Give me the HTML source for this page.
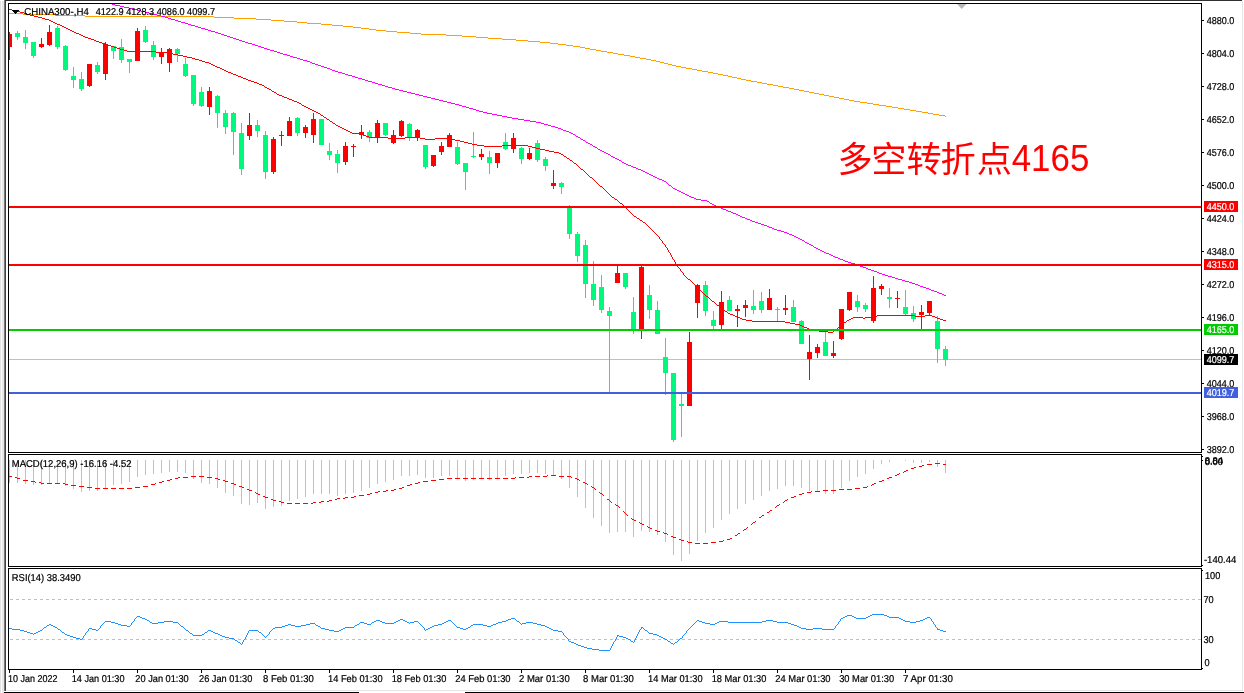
<!DOCTYPE html><html><head><meta charset="utf-8"><title>CHINA300-,H4</title><style>
html,body{margin:0;padding:0;background:#fff;}body{width:1244px;height:693px;overflow:hidden;position:relative;font-family:"Liberation Sans",sans-serif;}
svg{will-change:transform;position:absolute;left:0;top:0;display:block}
.t{font-family:"Liberation Sans",sans-serif;text-rendering:geometricPrecision;font-size:10px;fill:#000;stroke:#000;stroke-width:0.22px}
.w{fill:#fff;stroke:#fff}
.cr{shape-rendering:crispEdges}
</style></head><body>
<svg width="1244" height="693" viewBox="0 0 1244 693">
<defs><clipPath id="cm"><rect x="9" y="4" width="1192" height="448"/></clipPath><clipPath id="c2"><rect x="9" y="455" width="1192" height="111"/></clipPath><clipPath id="c3"><rect x="9" y="569" width="1192" height="100"/></clipPath><clipPath id="ds"><rect x="7" y="455" width="5" height="111"/><rect x="15" y="455" width="5" height="111"/><rect x="23" y="455" width="5" height="111"/><rect x="31" y="455" width="5" height="111"/><rect x="39" y="455" width="5" height="111"/><rect x="47" y="455" width="5" height="111"/><rect x="55" y="455" width="5" height="111"/><rect x="63" y="455" width="5" height="111"/><rect x="71" y="455" width="5" height="111"/><rect x="79" y="455" width="5" height="111"/><rect x="87" y="455" width="5" height="111"/><rect x="95" y="455" width="5" height="111"/><rect x="103" y="455" width="5" height="111"/><rect x="111" y="455" width="5" height="111"/><rect x="119" y="455" width="5" height="111"/><rect x="127" y="455" width="5" height="111"/><rect x="135" y="455" width="5" height="111"/><rect x="143" y="455" width="5" height="111"/><rect x="151" y="455" width="5" height="111"/><rect x="159" y="455" width="5" height="111"/><rect x="167" y="455" width="5" height="111"/><rect x="175" y="455" width="5" height="111"/><rect x="183" y="455" width="5" height="111"/><rect x="191" y="455" width="5" height="111"/><rect x="199" y="455" width="5" height="111"/><rect x="207" y="455" width="5" height="111"/><rect x="215" y="455" width="5" height="111"/><rect x="223" y="455" width="5" height="111"/><rect x="231" y="455" width="5" height="111"/><rect x="239" y="455" width="5" height="111"/><rect x="247" y="455" width="5" height="111"/><rect x="255" y="455" width="5" height="111"/><rect x="263" y="455" width="5" height="111"/><rect x="271" y="455" width="5" height="111"/><rect x="279" y="455" width="5" height="111"/><rect x="287" y="455" width="5" height="111"/><rect x="295" y="455" width="5" height="111"/><rect x="303" y="455" width="5" height="111"/><rect x="311" y="455" width="5" height="111"/><rect x="319" y="455" width="5" height="111"/><rect x="327" y="455" width="5" height="111"/><rect x="335" y="455" width="5" height="111"/><rect x="343" y="455" width="5" height="111"/><rect x="351" y="455" width="5" height="111"/><rect x="359" y="455" width="5" height="111"/><rect x="367" y="455" width="5" height="111"/><rect x="375" y="455" width="5" height="111"/><rect x="383" y="455" width="5" height="111"/><rect x="391" y="455" width="5" height="111"/><rect x="399" y="455" width="5" height="111"/><rect x="407" y="455" width="5" height="111"/><rect x="415" y="455" width="5" height="111"/><rect x="423" y="455" width="5" height="111"/><rect x="431" y="455" width="5" height="111"/><rect x="439" y="455" width="5" height="111"/><rect x="447" y="455" width="5" height="111"/><rect x="455" y="455" width="5" height="111"/><rect x="463" y="455" width="5" height="111"/><rect x="471" y="455" width="5" height="111"/><rect x="479" y="455" width="5" height="111"/><rect x="487" y="455" width="5" height="111"/><rect x="495" y="455" width="5" height="111"/><rect x="503" y="455" width="5" height="111"/><rect x="511" y="455" width="5" height="111"/><rect x="519" y="455" width="5" height="111"/><rect x="527" y="455" width="5" height="111"/><rect x="535" y="455" width="5" height="111"/><rect x="543" y="455" width="5" height="111"/><rect x="551" y="455" width="5" height="111"/><rect x="559" y="455" width="5" height="111"/><rect x="567" y="455" width="5" height="111"/><rect x="575" y="455" width="5" height="111"/><rect x="583" y="455" width="5" height="111"/><rect x="591" y="455" width="5" height="111"/><rect x="599" y="455" width="5" height="111"/><rect x="607" y="455" width="5" height="111"/><rect x="615" y="455" width="5" height="111"/><rect x="623" y="455" width="5" height="111"/><rect x="631" y="455" width="5" height="111"/><rect x="639" y="455" width="5" height="111"/><rect x="647" y="455" width="5" height="111"/><rect x="655" y="455" width="5" height="111"/><rect x="663" y="455" width="5" height="111"/><rect x="671" y="455" width="5" height="111"/><rect x="679" y="455" width="5" height="111"/><rect x="687" y="455" width="5" height="111"/><rect x="695" y="455" width="5" height="111"/><rect x="703" y="455" width="5" height="111"/><rect x="711" y="455" width="5" height="111"/><rect x="719" y="455" width="5" height="111"/><rect x="727" y="455" width="5" height="111"/><rect x="735" y="455" width="5" height="111"/><rect x="743" y="455" width="5" height="111"/><rect x="751" y="455" width="5" height="111"/><rect x="759" y="455" width="5" height="111"/><rect x="767" y="455" width="5" height="111"/><rect x="775" y="455" width="5" height="111"/><rect x="783" y="455" width="5" height="111"/><rect x="791" y="455" width="5" height="111"/><rect x="799" y="455" width="5" height="111"/><rect x="807" y="455" width="5" height="111"/><rect x="815" y="455" width="5" height="111"/><rect x="823" y="455" width="5" height="111"/><rect x="831" y="455" width="5" height="111"/><rect x="839" y="455" width="5" height="111"/><rect x="847" y="455" width="5" height="111"/><rect x="855" y="455" width="5" height="111"/><rect x="863" y="455" width="5" height="111"/><rect x="871" y="455" width="5" height="111"/><rect x="879" y="455" width="5" height="111"/><rect x="887" y="455" width="5" height="111"/><rect x="895" y="455" width="5" height="111"/><rect x="903" y="455" width="5" height="111"/><rect x="911" y="455" width="5" height="111"/><rect x="919" y="455" width="5" height="111"/><rect x="927" y="455" width="5" height="111"/><rect x="935" y="455" width="5" height="111"/><rect x="943" y="455" width="5" height="111"/><rect x="951" y="455" width="5" height="111"/></clipPath></defs>
<rect width="1244" height="693" fill="#fff"/>
<g class="cr">
<rect x="0" y="1" width="1" height="692" fill="#e1e1e1"/><rect x="1" y="1" width="1" height="692" fill="#fcfcfc"/><rect x="2" y="1" width="2" height="692" fill="#e7e7e7"/>
<rect x="4" y="0" width="1" height="691" fill="#7c7c7c"/><rect x="5" y="0" width="1" height="691" fill="#404040"/>
<rect x="5" y="0" width="1237" height="1" fill="#303030"/>
<rect x="1242" y="1" width="1" height="690" fill="#e6e6e6"/>
<rect x="6" y="690" width="1237" height="1" fill="#e6e6e6"/>
<rect x="4" y="692" width="355" height="1" fill="#000"/><rect x="465" y="692" width="779" height="1" fill="#000"/>
<rect x="8" y="3" width="1194" height="1" fill="#000"/>
<rect x="8" y="452" width="1194" height="1" fill="#000"/>
<rect x="8" y="3" width="1" height="450" fill="#000"/>
<rect x="1201" y="3" width="1" height="450" fill="#000"/>
<rect x="8" y="454" width="1194" height="1" fill="#000"/>
<rect x="8" y="566" width="1194" height="1" fill="#000"/>
<rect x="8" y="454" width="1" height="113" fill="#000"/>
<rect x="1201" y="454" width="1" height="113" fill="#000"/>
<rect x="8" y="568" width="1194" height="1" fill="#000"/>
<rect x="8" y="669" width="1194" height="1" fill="#000"/>
<rect x="8" y="568" width="1" height="102" fill="#000"/>
<rect x="1201" y="568" width="1" height="102" fill="#000"/>
</g>
<g clip-path="url(#cm)">
<rect class="cr" x="9" y="359" width="1192" height="1" fill="#c0c0c0"/>
<g class="cr">
<rect x="9" y="32" width="1" height="28" fill="#ff0000"/>
<rect x="7" y="34" width="5" height="13" fill="#ff0000"/>
<rect x="17" y="31" width="1" height="9" fill="#00f87c"/>
<rect x="15" y="33" width="5" height="4" fill="#00f87c"/>
<rect x="25" y="30" width="1" height="19" fill="#00f87c"/>
<rect x="23" y="37" width="5" height="6" fill="#00f87c"/>
<rect x="33" y="42" width="1" height="16" fill="#00f87c"/>
<rect x="31" y="42" width="5" height="14" fill="#00f87c"/>
<rect x="41" y="38" width="1" height="10" fill="#ff0000"/>
<rect x="39" y="44" width="5" height="3" fill="#ff0000"/>
<rect x="49" y="25" width="1" height="21" fill="#ff0000"/>
<rect x="47" y="32" width="5" height="13" fill="#ff0000"/>
<rect x="57" y="26" width="1" height="23" fill="#00f87c"/>
<rect x="55" y="28" width="5" height="19" fill="#00f87c"/>
<rect x="65" y="45" width="1" height="26" fill="#00f87c"/>
<rect x="63" y="46" width="5" height="24" fill="#00f87c"/>
<rect x="73" y="67" width="1" height="21" fill="#00f87c"/>
<rect x="71" y="76" width="5" height="4" fill="#00f87c"/>
<rect x="81" y="72" width="1" height="19" fill="#00f87c"/>
<rect x="79" y="79" width="5" height="10" fill="#00f87c"/>
<rect x="89" y="64" width="1" height="23" fill="#ff0000"/>
<rect x="87" y="64" width="5" height="22" fill="#ff0000"/>
<rect x="97" y="62" width="1" height="12" fill="#00f87c"/>
<rect x="95" y="65" width="5" height="7" fill="#00f87c"/>
<rect x="105" y="42" width="1" height="38" fill="#ff0000"/>
<rect x="103" y="44" width="5" height="30" fill="#ff0000"/>
<rect x="113" y="46" width="1" height="13" fill="#00f87c"/>
<rect x="111" y="46" width="5" height="5" fill="#00f87c"/>
<rect x="121" y="39" width="1" height="24" fill="#00f87c"/>
<rect x="119" y="47" width="5" height="13" fill="#00f87c"/>
<rect x="129" y="59" width="1" height="14" fill="#00f87c"/>
<rect x="127" y="59" width="5" height="3" fill="#00f87c"/>
<rect x="137" y="28" width="1" height="33" fill="#ff0000"/>
<rect x="135" y="31" width="5" height="30" fill="#ff0000"/>
<rect x="145" y="26" width="1" height="17" fill="#00f87c"/>
<rect x="143" y="30" width="5" height="12" fill="#00f87c"/>
<rect x="153" y="41" width="1" height="19" fill="#00f87c"/>
<rect x="151" y="45" width="5" height="12" fill="#00f87c"/>
<rect x="161" y="48" width="1" height="16" fill="#ff0000"/>
<rect x="159" y="52" width="5" height="5" fill="#ff0000"/>
<rect x="169" y="48" width="1" height="24" fill="#ff0000"/>
<rect x="167" y="49" width="5" height="14" fill="#ff0000"/>
<rect x="177" y="48" width="1" height="14" fill="#00f87c"/>
<rect x="175" y="49" width="5" height="5" fill="#00f87c"/>
<rect x="185" y="58" width="1" height="19" fill="#00f87c"/>
<rect x="183" y="64" width="5" height="12" fill="#00f87c"/>
<rect x="193" y="75" width="1" height="31" fill="#00f87c"/>
<rect x="191" y="75" width="5" height="29" fill="#00f87c"/>
<rect x="201" y="87" width="1" height="20" fill="#00f87c"/>
<rect x="199" y="92" width="5" height="14" fill="#00f87c"/>
<rect x="209" y="87" width="1" height="28" fill="#ff0000"/>
<rect x="207" y="91" width="5" height="16" fill="#ff0000"/>
<rect x="217" y="95" width="1" height="33" fill="#00f87c"/>
<rect x="215" y="96" width="5" height="17" fill="#00f87c"/>
<rect x="225" y="110" width="1" height="24" fill="#00f87c"/>
<rect x="223" y="113" width="5" height="14" fill="#00f87c"/>
<rect x="233" y="112" width="1" height="43" fill="#00f87c"/>
<rect x="231" y="113" width="5" height="19" fill="#00f87c"/>
<rect x="241" y="123" width="1" height="52" fill="#00f87c"/>
<rect x="239" y="133" width="5" height="36" fill="#00f87c"/>
<rect x="249" y="113" width="1" height="27" fill="#ff0000"/>
<rect x="247" y="125" width="5" height="11" fill="#ff0000"/>
<rect x="257" y="120" width="1" height="17" fill="#00f87c"/>
<rect x="255" y="125" width="5" height="6" fill="#00f87c"/>
<rect x="265" y="131" width="1" height="48" fill="#00f87c"/>
<rect x="263" y="135" width="5" height="37" fill="#00f87c"/>
<rect x="273" y="137" width="1" height="37" fill="#ff0000"/>
<rect x="271" y="139" width="5" height="33" fill="#ff0000"/>
<rect x="281" y="131" width="1" height="15" fill="#ff0000"/>
<rect x="279" y="135" width="5" height="1" fill="#ff0000"/>
<rect x="289" y="117" width="1" height="19" fill="#ff0000"/>
<rect x="287" y="121" width="5" height="15" fill="#ff0000"/>
<rect x="297" y="117" width="1" height="19" fill="#00f87c"/>
<rect x="295" y="118" width="5" height="15" fill="#00f87c"/>
<rect x="305" y="125" width="1" height="13" fill="#ff0000"/>
<rect x="303" y="127" width="5" height="6" fill="#ff0000"/>
<rect x="313" y="113" width="1" height="30" fill="#ff0000"/>
<rect x="311" y="119" width="5" height="16" fill="#ff0000"/>
<rect x="321" y="119" width="1" height="26" fill="#00f87c"/>
<rect x="319" y="119" width="5" height="26" fill="#00f87c"/>
<rect x="329" y="143" width="1" height="17" fill="#00f87c"/>
<rect x="327" y="151" width="5" height="4" fill="#00f87c"/>
<rect x="337" y="150" width="1" height="23" fill="#00f87c"/>
<rect x="335" y="154" width="5" height="9" fill="#00f87c"/>
<rect x="345" y="142" width="1" height="23" fill="#ff0000"/>
<rect x="343" y="146" width="5" height="16" fill="#ff0000"/>
<rect x="353" y="144" width="1" height="13" fill="#ff0000"/>
<rect x="351" y="146" width="5" height="1" fill="#ff0000"/>
<rect x="361" y="125" width="1" height="14" fill="#ff0000"/>
<rect x="359" y="132" width="5" height="3" fill="#ff0000"/>
<rect x="369" y="130" width="1" height="12" fill="#00f87c"/>
<rect x="367" y="132" width="5" height="6" fill="#00f87c"/>
<rect x="377" y="120" width="1" height="23" fill="#ff0000"/>
<rect x="375" y="123" width="5" height="15" fill="#ff0000"/>
<rect x="385" y="123" width="1" height="13" fill="#00f87c"/>
<rect x="383" y="123" width="5" height="12" fill="#00f87c"/>
<rect x="393" y="130" width="1" height="14" fill="#ff0000"/>
<rect x="391" y="135" width="5" height="8" fill="#ff0000"/>
<rect x="401" y="120" width="1" height="17" fill="#ff0000"/>
<rect x="399" y="121" width="5" height="15" fill="#ff0000"/>
<rect x="409" y="123" width="1" height="18" fill="#00f87c"/>
<rect x="407" y="124" width="5" height="13" fill="#00f87c"/>
<rect x="417" y="129" width="1" height="12" fill="#ff0000"/>
<rect x="415" y="130" width="5" height="8" fill="#ff0000"/>
<rect x="425" y="145" width="1" height="24" fill="#00f87c"/>
<rect x="423" y="145" width="5" height="22" fill="#00f87c"/>
<rect x="433" y="155" width="1" height="12" fill="#ff0000"/>
<rect x="431" y="155" width="5" height="11" fill="#ff0000"/>
<rect x="441" y="142" width="1" height="13" fill="#ff0000"/>
<rect x="439" y="146" width="5" height="6" fill="#ff0000"/>
<rect x="449" y="133" width="1" height="14" fill="#ff0000"/>
<rect x="447" y="135" width="5" height="12" fill="#ff0000"/>
<rect x="457" y="142" width="1" height="23" fill="#00f87c"/>
<rect x="455" y="147" width="5" height="17" fill="#00f87c"/>
<rect x="465" y="163" width="1" height="27" fill="#00f87c"/>
<rect x="463" y="163" width="5" height="9" fill="#00f87c"/>
<rect x="473" y="132" width="1" height="26" fill="#00f87c"/>
<rect x="471" y="156" width="5" height="1" fill="#00f87c"/>
<rect x="481" y="149" width="1" height="11" fill="#ff0000"/>
<rect x="479" y="154" width="5" height="3" fill="#ff0000"/>
<rect x="489" y="151" width="1" height="23" fill="#00f87c"/>
<rect x="487" y="157" width="5" height="6" fill="#00f87c"/>
<rect x="497" y="153" width="1" height="15" fill="#ff0000"/>
<rect x="495" y="153" width="5" height="10" fill="#ff0000"/>
<rect x="505" y="133" width="1" height="17" fill="#00f87c"/>
<rect x="503" y="142" width="5" height="7" fill="#00f87c"/>
<rect x="513" y="133" width="1" height="20" fill="#ff0000"/>
<rect x="511" y="138" width="5" height="11" fill="#ff0000"/>
<rect x="521" y="147" width="1" height="17" fill="#00f87c"/>
<rect x="519" y="148" width="5" height="11" fill="#00f87c"/>
<rect x="529" y="148" width="1" height="12" fill="#ff0000"/>
<rect x="527" y="153" width="5" height="6" fill="#ff0000"/>
<rect x="537" y="140" width="1" height="22" fill="#00f87c"/>
<rect x="535" y="143" width="5" height="17" fill="#00f87c"/>
<rect x="545" y="157" width="1" height="14" fill="#00f87c"/>
<rect x="543" y="159" width="5" height="7" fill="#00f87c"/>
<rect x="553" y="170" width="1" height="19" fill="#ff0000"/>
<rect x="551" y="183" width="5" height="3" fill="#ff0000"/>
<rect x="561" y="182" width="1" height="12" fill="#00f87c"/>
<rect x="559" y="183" width="5" height="4" fill="#00f87c"/>
<rect x="569" y="205" width="1" height="34" fill="#00f87c"/>
<rect x="567" y="206" width="5" height="28" fill="#00f87c"/>
<rect x="577" y="232" width="1" height="30" fill="#00f87c"/>
<rect x="575" y="234" width="5" height="22" fill="#00f87c"/>
<rect x="585" y="240" width="1" height="58" fill="#00f87c"/>
<rect x="583" y="245" width="5" height="39" fill="#00f87c"/>
<rect x="593" y="261" width="1" height="45" fill="#00f87c"/>
<rect x="591" y="284" width="5" height="16" fill="#00f87c"/>
<rect x="601" y="275" width="1" height="38" fill="#00f87c"/>
<rect x="599" y="287" width="5" height="23" fill="#00f87c"/>
<rect x="609" y="307" width="1" height="85" fill="#00f87c"/>
<rect x="607" y="311" width="5" height="5" fill="#00f87c"/>
<rect x="617" y="264" width="1" height="19" fill="#ff0000"/>
<rect x="615" y="273" width="5" height="10" fill="#ff0000"/>
<rect x="625" y="273" width="1" height="16" fill="#00f87c"/>
<rect x="623" y="273" width="5" height="14" fill="#00f87c"/>
<rect x="633" y="297" width="1" height="37" fill="#00f87c"/>
<rect x="631" y="312" width="5" height="18" fill="#00f87c"/>
<rect x="641" y="265" width="1" height="74" fill="#ff0000"/>
<rect x="639" y="267" width="5" height="63" fill="#ff0000"/>
<rect x="649" y="285" width="1" height="34" fill="#00f87c"/>
<rect x="647" y="295" width="5" height="15" fill="#00f87c"/>
<rect x="657" y="301" width="1" height="33" fill="#00f87c"/>
<rect x="655" y="310" width="5" height="24" fill="#00f87c"/>
<rect x="665" y="338" width="1" height="57" fill="#00f87c"/>
<rect x="663" y="357" width="5" height="16" fill="#00f87c"/>
<rect x="673" y="373" width="1" height="69" fill="#00f87c"/>
<rect x="671" y="373" width="5" height="67" fill="#00f87c"/>
<rect x="681" y="394" width="1" height="43" fill="#00f87c"/>
<rect x="679" y="404" width="5" height="2" fill="#00f87c"/>
<rect x="689" y="332" width="1" height="74" fill="#ff0000"/>
<rect x="687" y="342" width="5" height="64" fill="#ff0000"/>
<rect x="697" y="284" width="1" height="34" fill="#ff0000"/>
<rect x="695" y="285" width="5" height="18" fill="#ff0000"/>
<rect x="705" y="281" width="1" height="35" fill="#00f87c"/>
<rect x="703" y="285" width="5" height="26" fill="#00f87c"/>
<rect x="713" y="311" width="1" height="18" fill="#00f87c"/>
<rect x="711" y="320" width="5" height="6" fill="#00f87c"/>
<rect x="721" y="291" width="1" height="38" fill="#ff0000"/>
<rect x="719" y="302" width="5" height="23" fill="#ff0000"/>
<rect x="729" y="296" width="1" height="15" fill="#00f87c"/>
<rect x="727" y="300" width="5" height="11" fill="#00f87c"/>
<rect x="737" y="305" width="1" height="22" fill="#ff0000"/>
<rect x="735" y="309" width="5" height="2" fill="#ff0000"/>
<rect x="745" y="300" width="1" height="17" fill="#ff0000"/>
<rect x="743" y="305" width="5" height="3" fill="#ff0000"/>
<rect x="753" y="290" width="1" height="24" fill="#00f87c"/>
<rect x="751" y="306" width="5" height="4" fill="#00f87c"/>
<rect x="761" y="292" width="1" height="21" fill="#00f87c"/>
<rect x="759" y="301" width="5" height="9" fill="#00f87c"/>
<rect x="769" y="289" width="1" height="21" fill="#ff0000"/>
<rect x="767" y="298" width="5" height="12" fill="#ff0000"/>
<rect x="777" y="307" width="1" height="15" fill="#00f87c"/>
<rect x="775" y="309" width="5" height="1" fill="#00f87c"/>
<rect x="785" y="295" width="1" height="20" fill="#ff0000"/>
<rect x="783" y="308" width="5" height="2" fill="#ff0000"/>
<rect x="793" y="300" width="1" height="22" fill="#00f87c"/>
<rect x="791" y="307" width="5" height="15" fill="#00f87c"/>
<rect x="801" y="320" width="1" height="24" fill="#00f87c"/>
<rect x="799" y="321" width="5" height="23" fill="#00f87c"/>
<rect x="809" y="335" width="1" height="45" fill="#ff0000"/>
<rect x="807" y="352" width="5" height="7" fill="#ff0000"/>
<rect x="817" y="344" width="1" height="14" fill="#ff0000"/>
<rect x="815" y="347" width="5" height="6" fill="#ff0000"/>
<rect x="825" y="331" width="1" height="25" fill="#00f87c"/>
<rect x="823" y="342" width="5" height="14" fill="#00f87c"/>
<rect x="833" y="341" width="1" height="17" fill="#ff0000"/>
<rect x="831" y="353" width="5" height="3" fill="#ff0000"/>
<rect x="841" y="309" width="1" height="31" fill="#ff0000"/>
<rect x="839" y="309" width="5" height="30" fill="#ff0000"/>
<rect x="849" y="292" width="1" height="19" fill="#ff0000"/>
<rect x="847" y="292" width="5" height="18" fill="#ff0000"/>
<rect x="857" y="295" width="1" height="17" fill="#00f87c"/>
<rect x="855" y="301" width="5" height="6" fill="#00f87c"/>
<rect x="865" y="303" width="1" height="9" fill="#00f87c"/>
<rect x="863" y="305" width="5" height="4" fill="#00f87c"/>
<rect x="873" y="276" width="1" height="47" fill="#ff0000"/>
<rect x="871" y="288" width="5" height="33" fill="#ff0000"/>
<rect x="881" y="284" width="1" height="11" fill="#ff0000"/>
<rect x="879" y="286" width="5" height="3" fill="#ff0000"/>
<rect x="889" y="288" width="1" height="20" fill="#00f87c"/>
<rect x="887" y="297" width="5" height="2" fill="#00f87c"/>
<rect x="897" y="291" width="1" height="17" fill="#ff0000"/>
<rect x="895" y="298" width="5" height="1" fill="#ff0000"/>
<rect x="905" y="290" width="1" height="25" fill="#00f87c"/>
<rect x="903" y="307" width="5" height="7" fill="#00f87c"/>
<rect x="913" y="306" width="1" height="16" fill="#00f87c"/>
<rect x="911" y="313" width="5" height="6" fill="#00f87c"/>
<rect x="921" y="305" width="1" height="24" fill="#ff0000"/>
<rect x="919" y="312" width="5" height="3" fill="#ff0000"/>
<rect x="929" y="301" width="1" height="14" fill="#ff0000"/>
<rect x="927" y="301" width="5" height="12" fill="#ff0000"/>
<rect x="937" y="316" width="1" height="47" fill="#00f87c"/>
<rect x="935" y="321" width="5" height="28" fill="#00f87c"/>
<rect x="945" y="346" width="1" height="20" fill="#00f87c"/>
<rect x="943" y="349" width="5" height="11" fill="#00f87c"/>
</g>
<path class="cr" fill="#ffa000" d="M9 13h14v1h-14zM23 14h32v1h-32zM55 15h30v1h-30zM85 16h129v1h-129zM214 17h20v1h-20zM234 18h22v1h-22zM256 19h15v1h-15zM271 20h13v1h-13zM284 21h13v1h-13zM297 22h10v1h-10zM307 23h14v1h-14zM321 24h11v1h-11zM332 25h11v1h-11zM343 26h10v1h-10zM353 27h8v1h-8zM361 28h8v1h-8zM369 29h7v1h-7zM376 30h10v1h-10zM386 31h11v1h-11zM397 32h13v1h-13zM410 33h11v1h-11zM421 34h25v1h-25zM446 35h16v1h-16zM462 36h14v1h-14zM476 37h12v1h-12zM488 38h14v1h-14zM502 39h14v1h-14zM516 40h12v1h-12zM528 41h12v1h-12zM540 42h10v1h-10zM550 43h8v1h-8zM558 44h8v1h-8zM566 45h7v1h-7zM573 46h7v1h-7zM580 47h5v1h-5zM585 48h5v1h-5zM590 49h6v1h-6zM596 50h5v1h-5zM601 51h6v1h-6zM607 52h6v1h-6zM613 53h5v1h-5zM618 54h6v1h-6zM624 55h6v1h-6zM630 56h5v1h-5zM635 57h5v1h-5zM640 58h6v1h-6zM646 59h5v1h-5zM651 60h5v1h-5zM656 61h4v1h-4zM660 62h4v1h-4zM664 63h4v1h-4zM668 64h4v1h-4zM672 65h4v1h-4zM676 66h5v1h-5zM681 67h5v1h-5zM686 68h6v1h-6zM692 69h5v1h-5zM697 70h5v1h-5zM702 71h6v1h-6zM708 72h5v1h-5zM713 73h5v1h-5zM718 74h5v1h-5zM723 75h5v1h-5zM728 76h4v1h-4zM732 77h5v1h-5zM737 78h4v1h-4zM741 79h5v1h-5zM746 80h5v1h-5zM751 81h6v1h-6zM757 82h5v1h-5zM762 83h5v1h-5zM767 84h6v1h-6zM773 85h5v1h-5zM778 86h5v1h-5zM783 87h6v1h-6zM789 88h5v1h-5zM794 89h5v1h-5zM799 90h5v1h-5zM804 91h5v1h-5zM809 92h5v1h-5zM814 93h5v1h-5zM819 94h5v1h-5zM824 95h5v1h-5zM829 96h5v1h-5zM834 97h5v1h-5zM839 98h5v1h-5zM844 99h5v1h-5zM849 100h5v1h-5zM854 101h6v1h-6zM860 102h7v1h-7zM867 103h6v1h-6zM873 104h6v1h-6zM879 105h7v1h-7zM886 106h6v1h-6zM892 107h6v1h-6zM898 108h6v1h-6zM904 109h6v1h-6zM910 110h6v1h-6zM916 111h6v1h-6zM922 112h6v1h-6zM928 113h5v1h-5zM933 114h6v1h-6zM939 115h6v1h-6zM945 116h1v1h-1z"/>
<path class="cr" fill="#ff00ff" d="M112 4h3v1h-3zM115 5h5v1h-5zM120 6h4v1h-4zM124 7h5v1h-5zM129 8h4v1h-4zM133 9h4v1h-4zM137 10h4v1h-4zM141 11h4v1h-4zM145 12h4v1h-4zM149 13h4v1h-4zM153 14h4v1h-4zM157 15h4v1h-4zM161 16h4v1h-4zM165 17h3v1h-3zM168 18h3v1h-3zM171 19h4v1h-4zM175 20h3v1h-3zM178 21h3v1h-3zM181 22h4v1h-4zM185 23h3v1h-3zM188 24h3v1h-3zM191 25h4v1h-4zM195 26h3v1h-3zM198 27h3v1h-3zM201 28h4v1h-4zM205 29h3v1h-3zM208 30h3v1h-3zM211 31h4v1h-4zM215 32h3v1h-3zM218 33h3v1h-3zM221 34h3v1h-3zM224 35h3v1h-3zM227 36h3v1h-3zM230 37h3v1h-3zM233 38h3v1h-3zM236 39h3v1h-3zM239 40h3v1h-3zM242 41h3v1h-3zM245 42h3v1h-3zM248 43h4v1h-4zM252 44h3v1h-3zM255 45h3v1h-3zM258 46h3v1h-3zM261 47h3v1h-3zM264 48h3v1h-3zM267 49h3v1h-3zM270 50h4v1h-4zM274 51h3v1h-3zM277 52h3v1h-3zM280 53h3v1h-3zM283 54h4v1h-4zM287 55h3v1h-3zM290 56h3v1h-3zM293 57h4v1h-4zM297 58h3v1h-3zM300 59h3v1h-3zM303 60h4v1h-4zM307 61h3v1h-3zM310 62h2v1h-2zM312 63h3v1h-3zM315 64h3v1h-3zM318 65h3v1h-3zM321 66h3v1h-3zM324 67h3v1h-3zM327 68h3v1h-3zM330 69h2v1h-2zM332 70h3v1h-3zM335 71h3v1h-3zM338 72h4v1h-4zM342 73h3v1h-3zM345 74h3v1h-3zM348 75h4v1h-4zM352 76h3v1h-3zM355 77h3v1h-3zM358 78h4v1h-4zM362 79h3v1h-3zM365 80h3v1h-3zM368 81h4v1h-4zM372 82h3v1h-3zM375 83h3v1h-3zM378 84h4v1h-4zM382 85h3v1h-3zM385 86h3v1h-3zM388 87h4v1h-4zM392 88h3v1h-3zM395 89h4v1h-4zM399 90h4v1h-4zM403 91h4v1h-4zM407 92h4v1h-4zM411 93h4v1h-4zM415 94h4v1h-4zM419 95h4v1h-4zM423 96h4v1h-4zM427 97h4v1h-4zM431 98h4v1h-4zM435 99h4v1h-4zM439 100h4v1h-4zM443 101h4v1h-4zM447 102h4v1h-4zM451 103h4v1h-4zM455 104h4v1h-4zM459 105h3v1h-3zM462 106h4v1h-4zM466 107h3v1h-3zM469 108h4v1h-4zM473 109h3v1h-3zM476 110h3v1h-3zM479 111h4v1h-4zM483 112h4v1h-4zM487 113h5v1h-5zM492 114h5v1h-5zM497 115h5v1h-5zM502 116h5v1h-5zM507 117h5v1h-5zM512 118h6v1h-6zM518 119h6v1h-6zM524 120h6v1h-6zM530 121h6v1h-6zM536 122h5v1h-5zM541 123h3v1h-3zM544 124h4v1h-4zM548 125h3v1h-3zM551 126h4v1h-4zM555 127h3v1h-3zM558 128h3v1h-3zM561 129h2v1h-2zM563 130h3v1h-3zM566 131h3v1h-3zM569 132h2v1h-2zM571 133h2v1h-2zM573 134h2v1h-2zM575 135h1v1h-1zM576 136h2v1h-2zM578 137h2v1h-2zM580 138h1v1h-1zM581 139h2v1h-2zM583 140h2v1h-2zM585 141h1v1h-1zM586 142h2v1h-2zM588 143h2v1h-2zM590 144h2v1h-2zM592 145h1v1h-1zM593 146h2v1h-2zM595 147h2v1h-2zM597 148h1v1h-1zM598 149h2v1h-2zM600 150h2v1h-2zM602 151h2v1h-2zM604 152h2v1h-2zM606 153h2v1h-2zM608 154h2v1h-2zM610 155h1v1h-1zM611 156h2v1h-2zM613 157h2v1h-2zM615 158h2v1h-2zM617 159h2v1h-2zM619 160h2v1h-2zM621 161h1v1h-1zM622 162h2v1h-2zM624 163h2v1h-2zM626 164h2v1h-2zM628 165h3v1h-3zM631 166h2v1h-2zM633 167h3v1h-3zM636 168h2v1h-2zM638 169h3v1h-3zM641 170h2v1h-2zM643 171h2v1h-2zM645 172h2v1h-2zM647 173h2v1h-2zM649 174h2v1h-2zM651 175h2v1h-2zM653 176h2v1h-2zM655 177h2v1h-2zM657 178h2v1h-2zM659 179h3v1h-3zM662 180h2v1h-2zM664 181h2v1h-2zM666 182h1v1h-1zM667 183h1v1h-1zM668 184h1v1h-1zM669 185h2v1h-2zM671 186h1v1h-1zM672 187h1v1h-1zM673 188h2v1h-2zM675 189h2v1h-2zM677 190h2v1h-2zM679 191h2v1h-2zM681 192h2v1h-2zM683 193h2v1h-2zM685 194h2v1h-2zM687 195h2v1h-2zM689 196h2v1h-2zM691 197h3v1h-3zM694 198h2v1h-2zM696 199h5v1h-5zM701 200h6v1h-6zM707 201h2v1h-2zM709 202h1v1h-1zM710 203h2v1h-2zM712 204h2v1h-2zM714 205h2v1h-2zM716 206h2v1h-2zM718 207h3v1h-3zM721 208h2v1h-2zM723 209h3v1h-3zM726 210h2v1h-2zM728 211h3v1h-3zM731 212h2v1h-2zM733 213h3v1h-3zM736 214h2v1h-2zM738 215h2v1h-2zM740 216h2v1h-2zM742 217h3v1h-3zM745 218h2v1h-2zM747 219h3v1h-3zM750 220h2v1h-2zM752 221h3v1h-3zM755 222h3v1h-3zM758 223h3v1h-3zM761 224h3v1h-3zM764 225h3v1h-3zM767 226h2v1h-2zM769 227h3v1h-3zM772 228h2v1h-2zM774 229h3v1h-3zM777 230h4v1h-4zM781 231h3v1h-3zM784 232h3v1h-3zM787 233h2v1h-2zM789 234h3v1h-3zM792 235h2v1h-2zM794 236h2v1h-2zM796 237h2v1h-2zM798 238h2v1h-2zM800 239h2v1h-2zM802 240h2v1h-2zM804 241h1v1h-1zM805 242h2v1h-2zM807 243h2v1h-2zM809 244h2v1h-2zM811 245h2v1h-2zM813 246h1v1h-1zM814 247h2v1h-2zM816 248h2v1h-2zM818 249h2v1h-2zM820 250h2v1h-2zM822 251h2v1h-2zM824 252h2v1h-2zM826 253h3v1h-3zM829 254h2v1h-2zM831 255h2v1h-2zM833 256h2v1h-2zM835 257h3v1h-3zM838 258h2v1h-2zM840 259h3v1h-3zM843 260h2v1h-2zM845 261h3v1h-3zM848 262h3v1h-3zM851 263h4v1h-4zM855 264h2v1h-2zM857 265h3v1h-3zM860 266h3v1h-3zM863 267h3v1h-3zM866 268h2v1h-2zM868 269h3v1h-3zM871 270h3v1h-3zM874 271h3v1h-3zM877 272h2v1h-2zM879 273h3v1h-3zM882 274h3v1h-3zM885 275h3v1h-3zM888 276h4v1h-4zM892 277h3v1h-3zM895 278h3v1h-3zM898 279h4v1h-4zM902 280h3v1h-3zM905 281h4v1h-4zM909 282h3v1h-3zM912 283h3v1h-3zM915 284h3v1h-3zM918 285h2v1h-2zM920 286h3v1h-3zM923 287h3v1h-3zM926 288h3v1h-3zM929 289h2v1h-2zM931 290h3v1h-3zM934 291h3v1h-3zM937 292h2v1h-2zM939 293h3v1h-3zM942 294h2v1h-2zM944 295h2v1h-2z"/>
<path class="cr" fill="#ff0000" d="M9 9h3v1h-3zM12 10h5v1h-5zM17 11h3v1h-3zM20 12h4v1h-4zM24 13h3v1h-3zM27 14h3v1h-3zM30 15h4v1h-4zM34 16h4v1h-4zM38 17h4v1h-4zM42 18h3v1h-3zM45 19h4v1h-4zM49 20h2v1h-2zM51 21h2v1h-2zM53 22h2v1h-2zM55 23h2v1h-2zM57 24h3v1h-3zM60 25h2v1h-2zM62 26h2v1h-2zM64 27h2v1h-2zM66 28h2v1h-2zM68 29h2v1h-2zM70 30h2v1h-2zM72 31h2v1h-2zM74 32h2v1h-2zM76 33h3v1h-3zM79 34h2v1h-2zM81 35h2v1h-2zM83 36h2v1h-2zM85 37h3v1h-3zM88 38h3v1h-3zM91 39h3v1h-3zM94 40h2v1h-2zM96 41h3v1h-3zM99 42h3v1h-3zM102 43h3v1h-3zM105 44h3v1h-3zM108 45h3v1h-3zM111 46h3v1h-3zM114 47h3v1h-3zM117 48h3v1h-3zM120 49h4v1h-4zM124 50h3v1h-3zM127 51h29v1h-29zM156 52h11v1h-11zM167 53h6v1h-6zM173 54h5v1h-5zM178 55h5v1h-5zM183 56h4v1h-4zM187 57h5v1h-5zM192 58h3v1h-3zM195 59h4v1h-4zM199 60h3v1h-3zM202 61h3v1h-3zM205 62h4v1h-4zM209 63h2v1h-2zM211 64h2v1h-2zM213 65h2v1h-2zM215 66h2v1h-2zM217 67h3v1h-3zM220 68h2v1h-2zM222 69h2v1h-2zM224 70h2v1h-2zM226 71h2v1h-2zM228 72h3v1h-3zM231 73h2v1h-2zM233 74h3v1h-3zM236 75h2v1h-2zM238 76h3v1h-3zM241 77h2v1h-2zM243 78h3v1h-3zM246 79h2v1h-2zM248 80h3v1h-3zM251 81h3v1h-3zM254 82h3v1h-3zM257 83h2v1h-2zM259 84h3v1h-3zM262 85h2v1h-2zM264 86h1v1h-1zM265 87h2v1h-2zM267 88h2v1h-2zM269 89h2v1h-2zM271 90h1v1h-1zM272 91h2v1h-2zM274 92h2v1h-2zM276 93h1v1h-1zM277 94h2v1h-2zM279 95h3v1h-3zM282 96h2v1h-2zM284 97h3v1h-3zM287 98h2v1h-2zM289 99h3v1h-3zM292 100h2v1h-2zM294 101h3v1h-3zM297 102h2v1h-2zM299 103h2v1h-2zM301 104h1v1h-1zM302 105h2v1h-2zM304 106h2v1h-2zM306 107h2v1h-2zM308 108h2v1h-2zM310 109h2v1h-2zM312 110h2v1h-2zM314 111h2v1h-2zM316 112h2v1h-2zM318 113h2v1h-2zM320 114h1v1h-1zM321 115h2v1h-2zM323 116h1v1h-1zM324 117h2v1h-2zM326 118h1v1h-1zM327 119h2v1h-2zM329 120h1v1h-1zM330 121h2v1h-2zM332 122h1v1h-1zM333 123h2v1h-2zM335 124h1v1h-1zM336 125h2v1h-2zM338 126h2v1h-2zM340 127h2v1h-2zM342 128h2v1h-2zM344 129h2v1h-2zM346 130h2v1h-2zM348 131h2v1h-2zM350 132h2v1h-2zM352 133h8v1h-8zM360 134h3v1h-3zM363 135h3v1h-3zM366 136h3v1h-3zM369 137h19v1h-19zM388 138h17v1h-17zM405 137h15v1h-15zM420 138h5v1h-5zM425 139h10v1h-10zM435 138h16v1h-16zM451 139h4v1h-4zM455 140h5v1h-5zM460 141h4v1h-4zM464 142h4v1h-4zM468 143h4v1h-4zM472 144h5v1h-5zM477 145h7v1h-7zM484 146h18v1h-18zM502 145h26v1h-26zM528 146h4v1h-4zM532 147h4v1h-4zM536 148h4v1h-4zM540 149h5v1h-5zM545 150h4v1h-4zM549 151h5v1h-5zM554 152h5v1h-5zM559 153h2v1h-2zM561 154h2v1h-2zM563 155h1v1h-1zM564 156h2v1h-2zM566 157h1v1h-1zM567 158h2v1h-2zM569 159h1v1h-1zM570 160h2v1h-2zM572 161h1v1h-1zM573 162h1v1h-1zM574 163h2v1h-2zM576 164h1v1h-1zM577 165h1v1h-1zM578 166h1v1h-1zM579 167h1v1h-1zM580 168h1v1h-1zM581 169h2v1h-2zM583 170h1v1h-1zM584 171h1v1h-1zM585 172h1v1h-1zM586 173h1v1h-1zM587 174h1v1h-1zM588 175h1v1h-1zM589 176h1v1h-1zM590 177h2v1h-2zM592 178h1v1h-1zM593 179h1v1h-1zM594 180h1v1h-1zM595 181h1v1h-1zM596 182h1v1h-1zM597 183h1v1h-1zM598 184h1v1h-1zM599 185h1v1h-1zM600 186h2v1h-2zM602 187h1v1h-1zM603 188h1v1h-1zM604 189h1v1h-1zM605 190h1v1h-1zM606 191h1v1h-1zM607 192h1v1h-1zM608 193h1v1h-1zM609 194h1v1h-1zM610 195h1v1h-1zM611 196h1v1h-1zM612 197h2v1h-2zM614 198h1v1h-1zM615 199h2v1h-2zM617 200h1v1h-1zM618 201h1v1h-1zM619 202h1v1h-1zM620 203h2v1h-2zM622 204h1v1h-1zM623 205h1v1h-1zM624 206h1v1h-1zM625 207h1v1h-1zM626 208h1v1h-1zM627 209h1v1h-1zM628 210h1v1h-1zM629 211h1v1h-1zM630 212h1v1h-1zM631 213h1v1h-1zM632 214h1v1h-1zM633 215h1v1h-1zM634 216h2v1h-2zM636 217h1v1h-1zM637 218h2v1h-2zM639 219h1v1h-1zM640 220h2v1h-2zM642 221h1v1h-1zM643 222h2v1h-2zM645 223h1v1h-1zM646 224h1v1h-1zM647 225h1v1h-1zM648 226h1v1h-1zM649 227h1v1h-1zM650 228h1v1h-1zM651 229h1v1h-1zM652 230h1v1h-1zM653 231h1v1h-1zM654 232h1v1h-1zM655 233h1v1h-1zM656 234h1v1h-1zM657 235h1v1h-1zM658 236h1v1h-1zM659 237h1v2h-1zM660 239h1v1h-1zM661 240h1v1h-1zM662 241h1v2h-1zM663 243h1v1h-1zM664 244h1v1h-1zM665 245h1v2h-1zM666 247h1v1h-1zM667 248h1v2h-1zM668 250h1v2h-1zM669 252h1v1h-1zM670 253h1v2h-1zM671 255h1v2h-1zM672 257h1v2h-1zM673 259h1v1h-1zM674 260h1v2h-1zM675 262h1v2h-1zM676 264h1v1h-1zM677 265h1v2h-1zM678 267h1v1h-1zM679 268h1v1h-1zM680 269h1v2h-1zM681 271h1v1h-1zM682 272h1v1h-1zM683 273h1v2h-1zM684 275h1v1h-1zM685 276h1v1h-1zM686 277h1v1h-1zM687 278h1v1h-1zM688 279h2v1h-2zM690 280h1v1h-1zM691 281h1v1h-1zM692 282h1v1h-1zM693 283h1v1h-1zM694 284h1v1h-1zM695 285h1v1h-1zM696 286h1v1h-1zM697 287h1v1h-1zM698 288h1v1h-1zM699 289h1v1h-1zM700 290h1v1h-1zM701 291h1v1h-1zM702 292h1v1h-1zM703 293h1v1h-1zM704 294h1v1h-1zM705 295h1v1h-1zM706 296h2v1h-2zM708 297h1v1h-1zM709 298h1v1h-1zM710 299h1v1h-1zM711 300h1v1h-1zM712 301h2v1h-2zM714 302h1v1h-1zM715 303h1v1h-1zM716 304h1v1h-1zM717 305h2v1h-2zM719 306h1v1h-1zM720 307h1v1h-1zM721 308h2v1h-2zM723 309h1v1h-1zM724 310h1v1h-1zM725 311h2v1h-2zM727 312h1v1h-1zM728 313h2v1h-2zM730 314h3v1h-3zM733 315h2v1h-2zM735 316h3v1h-3zM738 317h2v1h-2zM740 318h2v1h-2zM742 319h4v1h-4zM746 320h6v1h-6zM752 321h33v1h-33zM785 322h5v1h-5zM790 323h5v1h-5zM795 324h5v1h-5zM800 325h2v1h-2zM802 326h2v1h-2zM804 327h3v1h-3zM807 328h2v1h-2zM809 329h5v1h-5zM814 330h5v1h-5zM819 331h9v1h-9zM828 332h5v1h-5zM833 331h1v1h-1zM834 330h1v1h-1zM835 329h2v1h-2zM837 328h1v1h-1zM838 327h1v1h-1zM839 326h1v1h-1zM840 325h2v1h-2zM842 324h1v1h-1zM843 323h1v1h-1zM844 322h2v1h-2zM846 321h1v1h-1zM847 320h2v1h-2zM849 319h2v1h-2zM851 318h2v1h-2zM853 317h10v1h-10zM863 318h2v1h-2zM865 317h9v1h-9zM874 316h3v1h-3zM877 315h38v1h-38zM915 316h10v1h-10zM925 315h7v1h-7zM932 316h3v1h-3zM935 317h2v1h-2zM937 318h3v1h-3zM940 319h3v1h-3zM943 320h3v1h-3z"/>
<g class="cr">
<rect x="9" y="206" width="1192" height="2" fill="#ff0000"/>
<rect x="9" y="264" width="1192" height="2" fill="#ff0000"/>
<rect x="9" y="329" width="1192" height="2" fill="#00cc00"/>
<rect x="9" y="392" width="1192" height="2" fill="#4060e0"/>
</g>
</g>
<path class="cr" d="M12 10h7v1h-1v1h-1v1h-1v1h-1v-1h-1v-1h-1v-1h-1z" fill="#000"/>
<path d="M957 4h9.4l-4.7 5z" fill="#b8b8b8"/>
<g class="cr">
<rect x="1202" y="20" width="2" height="1" fill="#000"/>
<rect x="1202" y="53" width="2" height="1" fill="#000"/>
<rect x="1202" y="86" width="2" height="1" fill="#000"/>
<rect x="1202" y="119" width="2" height="1" fill="#000"/>
<rect x="1202" y="152" width="2" height="1" fill="#000"/>
<rect x="1202" y="185" width="2" height="1" fill="#000"/>
<rect x="1202" y="218" width="2" height="1" fill="#000"/>
<rect x="1202" y="251" width="2" height="1" fill="#000"/>
<rect x="1202" y="284" width="2" height="1" fill="#000"/>
<rect x="1202" y="317" width="2" height="1" fill="#000"/>
<rect x="1202" y="350" width="2" height="1" fill="#000"/>
<rect x="1202" y="383" width="2" height="1" fill="#000"/>
<rect x="1202" y="416" width="2" height="1" fill="#000"/>
<rect x="1202" y="449" width="2" height="1" fill="#000"/>
</g>
<text class="t" x="1206.7" y="24.1" textLength="27.70" lengthAdjust="spacingAndGlyphs" xml:space="preserve">4880.0</text>
<text class="t" x="1206.7" y="57.1" textLength="27.70" lengthAdjust="spacingAndGlyphs" xml:space="preserve">4804.0</text>
<text class="t" x="1206.7" y="90.1" textLength="27.70" lengthAdjust="spacingAndGlyphs" xml:space="preserve">4728.0</text>
<text class="t" x="1206.7" y="123.1" textLength="27.70" lengthAdjust="spacingAndGlyphs" xml:space="preserve">4652.0</text>
<text class="t" x="1206.7" y="156.1" textLength="27.70" lengthAdjust="spacingAndGlyphs" xml:space="preserve">4576.0</text>
<text class="t" x="1206.7" y="189.1" textLength="27.70" lengthAdjust="spacingAndGlyphs" xml:space="preserve">4500.0</text>
<text class="t" x="1206.7" y="222.1" textLength="27.70" lengthAdjust="spacingAndGlyphs" xml:space="preserve">4424.0</text>
<text class="t" x="1206.7" y="255.1" textLength="27.70" lengthAdjust="spacingAndGlyphs" xml:space="preserve">4348.0</text>
<text class="t" x="1206.7" y="288.1" textLength="27.70" lengthAdjust="spacingAndGlyphs" xml:space="preserve">4272.0</text>
<text class="t" x="1206.7" y="321.1" textLength="27.70" lengthAdjust="spacingAndGlyphs" xml:space="preserve">4196.0</text>
<text class="t" x="1206.7" y="354.1" textLength="27.70" lengthAdjust="spacingAndGlyphs" xml:space="preserve">4120.0</text>
<text class="t" x="1206.7" y="387.1" textLength="27.70" lengthAdjust="spacingAndGlyphs" xml:space="preserve">4044.0</text>
<text class="t" x="1206.7" y="420.1" textLength="27.70" lengthAdjust="spacingAndGlyphs" xml:space="preserve">3968.0</text>
<text class="t" x="1206.7" y="453.1" textLength="27.70" lengthAdjust="spacingAndGlyphs" xml:space="preserve">3892.0</text>
<rect class="cr" x="1204" y="201" width="34" height="11" fill="#ff0000"/>
<text class="t w" x="1206.7" y="210.1" textLength="27.70" lengthAdjust="spacingAndGlyphs" xml:space="preserve">4450.0</text>
<rect class="cr" x="1204" y="259" width="34" height="11" fill="#ff0000"/>
<text class="t w" x="1206.7" y="268.1" textLength="27.70" lengthAdjust="spacingAndGlyphs" xml:space="preserve">4315.0</text>
<rect class="cr" x="1204" y="324" width="34" height="11" fill="#00cc00"/>
<text class="t w" x="1206.7" y="333.1" textLength="27.70" lengthAdjust="spacingAndGlyphs" xml:space="preserve">4165.0</text>
<rect class="cr" x="1204" y="354" width="34" height="11" fill="#000"/>
<text class="t w" x="1206.7" y="363.1" textLength="27.70" lengthAdjust="spacingAndGlyphs" xml:space="preserve">4099.7</text>
<rect class="cr" x="1204" y="387" width="34" height="11" fill="#4060e0"/>
<text class="t w" x="1206.7" y="396.1" textLength="27.70" lengthAdjust="spacingAndGlyphs" xml:space="preserve">4019.7</text>
<text class="t" x="24.31" y="15.2" textLength="64.47" lengthAdjust="spacingAndGlyphs" xml:space="preserve">CHINA300-,H4</text>
<text class="t" x="95.69" y="15.2" textLength="119.37" lengthAdjust="spacingAndGlyphs" xml:space="preserve">4122.9 4128.3 4086.0 4099.7</text>
<text x="837.5 871.2 906.4 940.6 976.8" y="171.5" font-size="35.2" fill="#ff0000" style="font-family:'Liberation Sans','Noto Sans CJK SC',sans-serif">多空转折点</text>
<text x="1011.7" y="171.4" font-size="37" fill="#ff0000" textLength="77.6" lengthAdjust="spacingAndGlyphs" style="font-family:'Liberation Sans','Noto Sans CJK SC',sans-serif">4165</text>
<g clip-path="url(#c2)">
<g class="cr">
<rect x="9" y="460" width="1" height="23" fill="#c0c0c0"/>
<rect x="17" y="460" width="1" height="23" fill="#c0c0c0"/>
<rect x="25" y="460" width="1" height="24" fill="#c0c0c0"/>
<rect x="33" y="460" width="1" height="25" fill="#c0c0c0"/>
<rect x="41" y="460" width="1" height="25" fill="#c0c0c0"/>
<rect x="49" y="460" width="1" height="23" fill="#c0c0c0"/>
<rect x="57" y="460" width="1" height="24" fill="#c0c0c0"/>
<rect x="65" y="460" width="1" height="26" fill="#c0c0c0"/>
<rect x="73" y="460" width="1" height="29" fill="#c0c0c0"/>
<rect x="81" y="460" width="1" height="32" fill="#c0c0c0"/>
<rect x="89" y="460" width="1" height="31" fill="#c0c0c0"/>
<rect x="97" y="460" width="1" height="31" fill="#c0c0c0"/>
<rect x="105" y="460" width="1" height="28" fill="#c0c0c0"/>
<rect x="113" y="460" width="1" height="25" fill="#c0c0c0"/>
<rect x="121" y="460" width="1" height="24" fill="#c0c0c0"/>
<rect x="129" y="460" width="1" height="22" fill="#c0c0c0"/>
<rect x="137" y="460" width="1" height="17" fill="#c0c0c0"/>
<rect x="145" y="460" width="1" height="15" fill="#c0c0c0"/>
<rect x="153" y="460" width="1" height="14" fill="#c0c0c0"/>
<rect x="161" y="460" width="1" height="13" fill="#c0c0c0"/>
<rect x="169" y="460" width="1" height="12" fill="#c0c0c0"/>
<rect x="177" y="460" width="1" height="12" fill="#c0c0c0"/>
<rect x="185" y="460" width="1" height="13" fill="#c0c0c0"/>
<rect x="193" y="460" width="1" height="19" fill="#c0c0c0"/>
<rect x="201" y="460" width="1" height="23" fill="#c0c0c0"/>
<rect x="209" y="460" width="1" height="24" fill="#c0c0c0"/>
<rect x="217" y="460" width="1" height="28" fill="#c0c0c0"/>
<rect x="225" y="460" width="1" height="33" fill="#c0c0c0"/>
<rect x="233" y="460" width="1" height="36" fill="#c0c0c0"/>
<rect x="241" y="460" width="1" height="44" fill="#c0c0c0"/>
<rect x="249" y="460" width="1" height="45" fill="#c0c0c0"/>
<rect x="257" y="460" width="1" height="43" fill="#c0c0c0"/>
<rect x="265" y="460" width="1" height="49" fill="#c0c0c0"/>
<rect x="273" y="460" width="1" height="47" fill="#c0c0c0"/>
<rect x="281" y="460" width="1" height="46" fill="#c0c0c0"/>
<rect x="289" y="460" width="1" height="41" fill="#c0c0c0"/>
<rect x="297" y="460" width="1" height="39" fill="#c0c0c0"/>
<rect x="305" y="460" width="1" height="37" fill="#c0c0c0"/>
<rect x="313" y="460" width="1" height="34" fill="#c0c0c0"/>
<rect x="321" y="460" width="1" height="34" fill="#c0c0c0"/>
<rect x="329" y="460" width="1" height="34" fill="#c0c0c0"/>
<rect x="337" y="460" width="1" height="36" fill="#c0c0c0"/>
<rect x="345" y="460" width="1" height="34" fill="#c0c0c0"/>
<rect x="353" y="460" width="1" height="33" fill="#c0c0c0"/>
<rect x="361" y="460" width="1" height="31" fill="#c0c0c0"/>
<rect x="369" y="460" width="1" height="28" fill="#c0c0c0"/>
<rect x="377" y="460" width="1" height="24" fill="#c0c0c0"/>
<rect x="385" y="460" width="1" height="22" fill="#c0c0c0"/>
<rect x="393" y="460" width="1" height="20" fill="#c0c0c0"/>
<rect x="401" y="460" width="1" height="16" fill="#c0c0c0"/>
<rect x="409" y="460" width="1" height="16" fill="#c0c0c0"/>
<rect x="417" y="460" width="1" height="15" fill="#c0c0c0"/>
<rect x="425" y="460" width="1" height="18" fill="#c0c0c0"/>
<rect x="433" y="460" width="1" height="18" fill="#c0c0c0"/>
<rect x="441" y="460" width="1" height="16" fill="#c0c0c0"/>
<rect x="449" y="460" width="1" height="16" fill="#c0c0c0"/>
<rect x="457" y="460" width="1" height="18" fill="#c0c0c0"/>
<rect x="465" y="460" width="1" height="21" fill="#c0c0c0"/>
<rect x="473" y="460" width="1" height="20" fill="#c0c0c0"/>
<rect x="481" y="460" width="1" height="19" fill="#c0c0c0"/>
<rect x="489" y="460" width="1" height="20" fill="#c0c0c0"/>
<rect x="497" y="460" width="1" height="18" fill="#c0c0c0"/>
<rect x="505" y="460" width="1" height="16" fill="#c0c0c0"/>
<rect x="513" y="460" width="1" height="14" fill="#c0c0c0"/>
<rect x="521" y="460" width="1" height="14" fill="#c0c0c0"/>
<rect x="529" y="460" width="1" height="13" fill="#c0c0c0"/>
<rect x="537" y="460" width="1" height="13" fill="#c0c0c0"/>
<rect x="545" y="460" width="1" height="14" fill="#c0c0c0"/>
<rect x="553" y="460" width="1" height="16" fill="#c0c0c0"/>
<rect x="561" y="460" width="1" height="19" fill="#c0c0c0"/>
<rect x="569" y="460" width="1" height="28" fill="#c0c0c0"/>
<rect x="577" y="460" width="1" height="37" fill="#c0c0c0"/>
<rect x="585" y="460" width="1" height="48" fill="#c0c0c0"/>
<rect x="593" y="460" width="1" height="58" fill="#c0c0c0"/>
<rect x="601" y="460" width="1" height="66" fill="#c0c0c0"/>
<rect x="609" y="460" width="1" height="73" fill="#c0c0c0"/>
<rect x="617" y="460" width="1" height="72" fill="#c0c0c0"/>
<rect x="625" y="460" width="1" height="72" fill="#c0c0c0"/>
<rect x="633" y="460" width="1" height="77" fill="#c0c0c0"/>
<rect x="641" y="460" width="1" height="71" fill="#c0c0c0"/>
<rect x="649" y="460" width="1" height="72" fill="#c0c0c0"/>
<rect x="657" y="460" width="1" height="75" fill="#c0c0c0"/>
<rect x="665" y="460" width="1" height="82" fill="#c0c0c0"/>
<rect x="673" y="460" width="1" height="95" fill="#c0c0c0"/>
<rect x="681" y="460" width="1" height="101" fill="#c0c0c0"/>
<rect x="689" y="460" width="1" height="94" fill="#c0c0c0"/>
<rect x="697" y="460" width="1" height="81" fill="#c0c0c0"/>
<rect x="705" y="460" width="1" height="73" fill="#c0c0c0"/>
<rect x="713" y="460" width="1" height="68" fill="#c0c0c0"/>
<rect x="721" y="460" width="1" height="60" fill="#c0c0c0"/>
<rect x="729" y="460" width="1" height="54" fill="#c0c0c0"/>
<rect x="737" y="460" width="1" height="49" fill="#c0c0c0"/>
<rect x="745" y="460" width="1" height="44" fill="#c0c0c0"/>
<rect x="753" y="460" width="1" height="40" fill="#c0c0c0"/>
<rect x="761" y="460" width="1" height="36" fill="#c0c0c0"/>
<rect x="769" y="460" width="1" height="31" fill="#c0c0c0"/>
<rect x="777" y="460" width="1" height="29" fill="#c0c0c0"/>
<rect x="785" y="460" width="1" height="26" fill="#c0c0c0"/>
<rect x="793" y="460" width="1" height="26" fill="#c0c0c0"/>
<rect x="801" y="460" width="1" height="28" fill="#c0c0c0"/>
<rect x="809" y="460" width="1" height="31" fill="#c0c0c0"/>
<rect x="817" y="460" width="1" height="32" fill="#c0c0c0"/>
<rect x="825" y="460" width="1" height="34" fill="#c0c0c0"/>
<rect x="833" y="460" width="1" height="34" fill="#c0c0c0"/>
<rect x="841" y="460" width="1" height="28" fill="#c0c0c0"/>
<rect x="849" y="460" width="1" height="21" fill="#c0c0c0"/>
<rect x="857" y="460" width="1" height="17" fill="#c0c0c0"/>
<rect x="865" y="460" width="1" height="14" fill="#c0c0c0"/>
<rect x="873" y="460" width="1" height="9" fill="#c0c0c0"/>
<rect x="881" y="460" width="1" height="4" fill="#c0c0c0"/>
<rect x="889" y="460" width="1" height="2" fill="#c0c0c0"/>
<rect x="905" y="460" width="1" height="1" fill="#c0c0c0"/>
<rect x="913" y="460" width="1" height="3" fill="#c0c0c0"/>
<rect x="921" y="460" width="1" height="3" fill="#c0c0c0"/>
<rect x="929" y="460" width="1" height="2" fill="#c0c0c0"/>
<rect x="937" y="460" width="1" height="7" fill="#c0c0c0"/>
<rect x="945" y="460" width="1" height="13" fill="#c0c0c0"/>
</g>
<g clip-path="url(#ds)">
<path class="cr" fill="#ff0000" d="M9 476h3v1h-3zM12 477h5v1h-5zM17 478h3v1h-3zM20 479h3v1h-3zM23 480h5v1h-5zM28 481h7v1h-7zM35 482h6v1h-6zM41 483h24v1h-24zM65 484h6v1h-6zM71 485h6v1h-6zM77 486h7v1h-7zM84 487h8v1h-8zM92 488h42v1h-42zM134 487h8v1h-8zM142 486h6v1h-6zM148 485h3v1h-3zM151 484h4v1h-4zM155 483h3v1h-3zM158 482h4v1h-4zM162 481h4v1h-4zM166 480h4v1h-4zM170 479h4v1h-4zM174 478h4v1h-4zM178 477h11v1h-11zM189 476h15v1h-15zM204 477h9v1h-9zM213 478h5v1h-5zM218 479h3v1h-3zM221 480h4v1h-4zM225 481h3v1h-3zM228 482h3v1h-3zM231 483h3v1h-3zM234 484h2v1h-2zM236 485h3v1h-3zM239 486h3v1h-3zM242 487h3v1h-3zM245 488h2v1h-2zM247 489h2v1h-2zM249 490h3v1h-3zM252 491h2v1h-2zM254 492h2v1h-2zM256 493h2v1h-2zM258 494h2v1h-2zM260 495h3v1h-3zM263 496h2v1h-2zM265 497h3v1h-3zM268 498h2v1h-2zM270 499h3v1h-3zM273 500h4v1h-4zM277 501h4v1h-4zM281 502h6v1h-6zM287 503h26v1h-26zM313 502h8v1h-8zM321 501h8v1h-8zM329 500h4v1h-4zM333 499h4v1h-4zM337 498h8v1h-8zM345 497h9v1h-9zM354 496h5v1h-5zM359 495h5v1h-5zM364 494h6v1h-6zM370 493h4v1h-4zM374 492h4v1h-4zM378 491h8v1h-8zM386 490h8v1h-8zM394 489h4v1h-4zM398 488h4v1h-4zM402 487h2v1h-2zM404 486h3v1h-3zM407 485h3v1h-3zM410 484h4v1h-4zM414 483h4v1h-4zM418 482h5v1h-5zM423 481h5v1h-5zM428 480h8v1h-8zM436 479h11v1h-11zM447 478h68v1h-68zM515 477h14v1h-14zM529 476h18v1h-18zM547 475h12v1h-12zM559 476h12v1h-12zM571 477h3v1h-3zM574 478h3v1h-3zM577 479h2v1h-2zM579 480h2v1h-2zM581 481h2v1h-2zM583 482h2v1h-2zM585 483h2v1h-2zM587 484h2v1h-2zM589 485h1v1h-1zM590 486h2v1h-2zM592 487h2v1h-2zM594 488h1v1h-1zM595 489h1v1h-1zM596 490h2v1h-2zM598 491h1v1h-1zM599 492h1v1h-1zM600 493h2v1h-2zM602 494h1v1h-1zM603 495h1v1h-1zM604 496h1v1h-1zM605 497h1v1h-1zM606 498h1v1h-1zM607 499h2v1h-2zM609 500h1v1h-1zM610 501h1v1h-1zM611 502h2v1h-2zM613 503h2v1h-2zM615 504h1v1h-1zM616 505h2v1h-2zM618 506h1v1h-1zM619 507h1v1h-1zM620 508h1v1h-1zM621 509h1v1h-1zM622 510h1v1h-1zM623 511h1v1h-1zM624 512h1v1h-1zM625 513h1v1h-1zM626 514h1v1h-1zM627 515h1v1h-1zM628 516h2v1h-2zM630 517h1v1h-1zM631 518h1v1h-1zM632 519h2v1h-2zM634 520h2v1h-2zM636 521h2v1h-2zM638 522h2v1h-2zM640 523h2v1h-2zM642 524h2v1h-2zM644 525h2v1h-2zM646 526h2v1h-2zM648 527h2v1h-2zM650 528h2v1h-2zM652 529h3v1h-3zM655 530h2v1h-2zM657 531h3v1h-3zM660 532h4v1h-4zM664 533h3v1h-3zM667 534h2v1h-2zM669 535h2v1h-2zM671 536h2v1h-2zM673 537h3v1h-3zM676 538h2v1h-2zM678 539h3v1h-3zM681 540h3v1h-3zM684 541h4v1h-4zM688 542h7v1h-7zM695 543h14v1h-14zM709 542h8v1h-8zM717 541h6v1h-6zM723 540h4v1h-4zM727 539h3v1h-3zM730 538h2v1h-2zM732 537h2v1h-2zM734 536h1v1h-1zM735 535h2v1h-2zM737 534h1v1h-1zM738 533h2v1h-2zM740 532h1v1h-1zM741 531h2v1h-2zM743 530h1v1h-1zM744 529h2v1h-2zM746 528h1v1h-1zM747 527h1v1h-1zM748 526h1v1h-1zM749 525h2v1h-2zM751 524h1v1h-1zM752 523h1v1h-1zM753 522h2v1h-2zM755 521h1v1h-1zM756 520h1v1h-1zM757 519h1v1h-1zM758 518h1v1h-1zM759 517h2v1h-2zM761 516h1v1h-1zM762 515h2v1h-2zM764 514h1v1h-1zM765 513h2v1h-2zM767 512h2v1h-2zM769 511h1v1h-1zM770 510h2v1h-2zM772 509h1v1h-1zM773 508h1v1h-1zM774 507h2v1h-2zM776 506h1v1h-1zM777 505h2v1h-2zM779 504h2v1h-2zM781 503h1v1h-1zM782 502h2v1h-2zM784 501h1v1h-1zM785 500h2v1h-2zM787 499h2v1h-2zM789 498h2v1h-2zM791 497h3v1h-3zM794 496h2v1h-2zM796 495h3v1h-3zM799 494h3v1h-3zM802 493h4v1h-4zM806 492h5v1h-5zM811 491h9v1h-9zM820 490h17v1h-17zM837 489h15v1h-15zM852 488h10v1h-10zM862 487h5v1h-5zM867 486h2v1h-2zM869 485h3v1h-3zM872 484h2v1h-2zM874 483h3v1h-3zM877 482h2v1h-2zM879 481h3v1h-3zM882 480h2v1h-2zM884 479h3v1h-3zM887 478h2v1h-2zM889 477h3v1h-3zM892 476h2v1h-2zM894 475h3v1h-3zM897 474h2v1h-2zM899 473h2v1h-2zM901 472h3v1h-3zM904 471h2v1h-2zM906 470h3v1h-3zM909 469h2v1h-2zM911 468h3v1h-3zM914 467h4v1h-4zM918 466h4v1h-4zM922 465h5v1h-5zM927 464h8v1h-8zM935 463h6v1h-6zM941 464h5v1h-5z"/>
</g>
</g>
<text class="t" x="11.72" y="467.1" textLength="119.76" lengthAdjust="spacingAndGlyphs" xml:space="preserve">MACD(12,26,9) -16.16 -4.52</text>
<g class="cr"><rect x="1202" y="456" width="1" height="1" fill="#000"/><rect x="1202" y="460" width="1" height="1" fill="#000"/><rect x="1202" y="565" width="1" height="1" fill="#000"/></g>
<text class="t" x="1204.7" y="465" textLength="18.40" lengthAdjust="spacingAndGlyphs" xml:space="preserve">0.00</text>
<text class="t" x="1204.7" y="464.3" textLength="18.40" lengthAdjust="spacingAndGlyphs" xml:space="preserve">8.84</text>
<text class="t" x="1203.9" y="563.2" textLength="32.40" lengthAdjust="spacingAndGlyphs" xml:space="preserve">-140.44</text>
<g clip-path="url(#c3)">
<g class="cr" stroke="#c0c0c0" stroke-width="1" stroke-dasharray="3 3">
<line x1="10" y1="599.5" x2="1201" y2="599.5"/><line x1="10" y1="639.5" x2="1201" y2="639.5"/>
</g>
<path class="cr" fill="#1e90ff" d="M9 628h3v1h-3zM12 629h8v1h-8zM20 630h4v1h-4zM24 631h3v1h-3zM27 632h3v1h-3zM30 633h3v1h-3zM33 634h1v1h-1zM34 633h2v1h-2zM36 632h2v1h-2zM38 631h2v1h-2zM40 630h2v1h-2zM42 629h1v1h-1zM43 628h1v1h-1zM44 627h2v1h-2zM46 626h1v1h-1zM47 625h2v1h-2zM49 624h2v1h-2zM51 625h2v1h-2zM53 626h2v1h-2zM55 627h2v1h-2zM57 628h1v1h-1zM58 629h2v1h-2zM60 630h1v1h-1zM61 631h1v1h-1zM62 632h2v1h-2zM64 633h1v1h-1zM65 634h2v1h-2zM67 635h3v1h-3zM70 636h3v1h-3zM73 637h3v1h-3zM76 638h4v1h-4zM80 639h2v1h-2zM82 638h1v1h-1zM83 636h1v2h-1zM84 635h1v1h-1zM85 633h1v2h-1zM86 632h1v1h-1zM87 631h1v1h-1zM88 629h1v2h-1zM89 628h3v1h-3zM92 629h4v1h-4zM96 630h2v1h-2zM98 629h1v1h-1zM99 628h1v1h-1zM100 626h1v2h-1zM101 625h1v1h-1zM102 624h1v1h-1zM103 623h1v1h-1zM104 622h1v1h-1zM105 621h6v1h-6zM111 622h4v1h-4zM115 623h3v1h-3zM118 624h3v1h-3zM121 625h6v1h-6zM127 626h3v1h-3zM130 625h1v1h-1zM131 623h1v2h-1zM132 622h1v1h-1zM133 621h1v1h-1zM134 619h1v2h-1zM135 618h1v1h-1zM136 617h1v1h-1zM137 616h3v1h-3zM140 617h2v1h-2zM142 618h3v1h-3zM145 619h2v1h-2zM147 620h2v1h-2zM149 621h1v1h-1zM150 622h2v1h-2zM152 623h6v1h-6zM158 622h6v1h-6zM164 621h9v1h-9zM173 622h5v1h-5zM178 623h1v1h-1zM179 624h1v1h-1zM180 625h1v1h-1zM181 626h2v1h-2zM183 627h1v1h-1zM184 628h1v1h-1zM185 629h1v1h-1zM186 630h2v1h-2zM188 631h1v1h-1zM189 632h1v1h-1zM190 633h2v1h-2zM192 634h1v1h-1zM193 635h9v1h-9zM202 634h2v1h-2zM204 633h1v1h-1zM205 632h2v1h-2zM207 631h1v1h-1zM208 630h3v1h-3zM211 631h2v1h-2zM213 632h2v1h-2zM215 633h3v1h-3zM218 634h2v1h-2zM220 635h2v1h-2zM222 636h3v1h-3zM225 637h4v1h-4zM229 638h5v1h-5zM234 639h1v1h-1zM235 640h2v1h-2zM237 641h1v1h-1zM238 642h2v1h-2zM240 643h1v1h-1zM241 644h1v1h-1zM242 642h1v2h-1zM243 640h1v2h-1zM244 639h1v1h-1zM245 637h1v2h-1zM246 635h1v2h-1zM247 633h1v2h-1zM248 631h1v2h-1zM249 630h9v1h-9zM258 631h1v1h-1zM259 632h2v1h-2zM261 633h1v1h-1zM262 634h1v1h-1zM263 635h1v1h-1zM264 636h1v1h-1zM265 637h1v1h-1zM266 636h1v1h-1zM267 635h1v1h-1zM268 634h1v1h-1zM269 632h1v2h-1zM270 631h1v1h-1zM271 630h1v1h-1zM272 629h1v1h-1zM273 628h2v1h-2zM275 627h7v1h-7zM282 626h3v1h-3zM285 625h3v1h-3zM288 624h3v1h-3zM291 625h4v1h-4zM295 626h6v1h-6zM301 625h5v1h-5zM306 624h4v1h-4zM310 623h5v1h-5zM315 624h1v1h-1zM316 625h2v1h-2zM318 626h2v1h-2zM320 627h1v1h-1zM321 628h4v1h-4zM325 629h4v1h-4zM329 630h5v1h-5zM334 631h5v1h-5zM339 630h2v1h-2zM341 629h2v1h-2zM343 628h2v1h-2zM345 627h9v1h-9zM354 626h1v1h-1zM355 625h2v1h-2zM357 624h2v1h-2zM359 623h1v1h-1zM360 622h4v1h-4zM364 623h3v1h-3zM367 624h4v1h-4zM371 623h1v1h-1zM372 622h2v1h-2zM374 621h2v1h-2zM376 620h4v1h-4zM380 621h2v1h-2zM382 622h3v1h-3zM385 623h9v1h-9zM394 622h2v1h-2zM396 621h2v1h-2zM398 620h2v1h-2zM400 619h3v1h-3zM403 620h2v1h-2zM405 621h2v1h-2zM407 622h2v1h-2zM409 623h1v1h-1zM410 622h4v1h-4zM414 621h4v1h-4zM418 622h1v1h-1zM419 623h1v1h-1zM420 624h1v1h-1zM421 625h1v1h-1zM422 626h1v1h-1zM423 627h1v1h-1zM424 628h1v2h-1zM425 630h1v1h-1zM426 629h2v1h-2zM428 628h2v1h-2zM430 627h2v1h-2zM432 626h2v1h-2zM434 625h4v1h-4zM438 624h4v1h-4zM442 623h2v1h-2zM444 622h2v1h-2zM446 621h2v1h-2zM448 620h3v1h-3zM451 621h1v1h-1zM452 622h1v1h-1zM453 623h1v1h-1zM454 624h1v1h-1zM455 625h1v1h-1zM456 626h1v1h-1zM457 627h3v1h-3zM460 628h3v1h-3zM463 629h3v1h-3zM466 628h2v1h-2zM468 627h2v1h-2zM470 626h1v1h-1zM471 625h2v1h-2zM473 624h10v1h-10zM483 625h4v1h-4zM487 626h4v1h-4zM491 625h2v1h-2zM493 624h3v1h-3zM496 623h2v1h-2zM498 622h4v1h-4zM502 621h4v1h-4zM506 620h2v1h-2zM508 619h3v1h-3zM511 618h4v1h-4zM515 619h1v1h-1zM516 620h1v1h-1zM517 621h2v1h-2zM519 622h1v1h-1zM520 623h1v1h-1zM521 624h1v1h-1zM522 623h4v1h-4zM526 622h7v1h-7zM533 623h4v1h-4zM537 624h4v1h-4zM541 625h4v1h-4zM545 626h2v1h-2zM547 627h2v1h-2zM549 628h2v1h-2zM551 629h2v1h-2zM553 630h5v1h-5zM558 631h4v1h-4zM562 632h1v1h-1zM563 633h1v2h-1zM564 635h1v1h-1zM565 636h1v1h-1zM566 637h1v1h-1zM567 638h1v1h-1zM568 639h1v2h-1zM569 641h2v1h-2zM571 642h3v1h-3zM574 643h2v1h-2zM576 644h2v1h-2zM578 645h3v1h-3zM581 646h3v1h-3zM584 647h3v1h-3zM587 648h5v1h-5zM592 649h7v1h-7zM599 650h11v1h-11zM610 648h1v2h-1zM611 646h1v2h-1zM612 644h1v2h-1zM613 642h1v2h-1zM614 641h1v1h-1zM615 639h1v2h-1zM616 637h1v2h-1zM617 635h1v2h-1zM618 635h1v1h-1zM619 636h4v1h-4zM623 637h3v1h-3zM626 638h2v1h-2zM628 639h2v1h-2zM630 640h1v1h-1zM631 641h2v1h-2zM633 642h1v1h-1zM634 640h1v2h-1zM635 638h1v2h-1zM636 636h1v2h-1zM637 634h1v2h-1zM638 632h1v2h-1zM639 630h1v2h-1zM640 629h1v1h-1zM641 627h1v2h-1zM642 627h1v1h-1zM643 628h1v1h-1zM644 629h1v1h-1zM645 630h2v1h-2zM647 631h1v1h-1zM648 632h1v1h-1zM649 633h4v1h-4zM653 634h4v1h-4zM657 635h2v1h-2zM659 636h2v1h-2zM661 637h2v1h-2zM663 638h2v1h-2zM665 639h2v1h-2zM667 640h1v1h-1zM668 641h2v1h-2zM670 642h1v1h-1zM671 643h2v1h-2zM673 644h1v1h-1zM674 643h1v1h-1zM675 642h2v1h-2zM677 641h1v1h-1zM678 640h1v1h-1zM679 639h1v1h-1zM680 638h2v1h-2zM682 636h1v2h-1zM683 635h1v1h-1zM684 634h1v1h-1zM685 633h1v1h-1zM686 631h1v2h-1zM687 630h1v1h-1zM688 629h1v1h-1zM689 628h1v1h-1zM690 627h1v1h-1zM691 626h1v1h-1zM692 625h1v1h-1zM693 624h1v1h-1zM694 623h1v1h-1zM695 622h1v1h-1zM696 621h1v1h-1zM697 620h2v1h-2zM699 621h3v1h-3zM702 622h3v1h-3zM705 623h5v1h-5zM710 624h5v1h-5zM715 623h2v1h-2zM717 622h2v1h-2zM719 621h9v1h-9zM728 622h34v1h-34zM762 621h4v1h-4zM766 620h7v1h-7zM773 621h4v1h-4zM777 622h11v1h-11zM788 623h3v1h-3zM791 624h3v1h-3zM794 625h3v1h-3zM797 626h2v1h-2zM799 627h2v1h-2zM801 628h5v1h-5zM806 629h7v1h-7zM813 628h9v1h-9zM822 629h12v1h-12zM834 628h1v1h-1zM835 626h1v2h-1zM836 625h1v1h-1zM837 624h1v1h-1zM838 622h1v2h-1zM839 621h1v1h-1zM840 619h1v2h-1zM841 618h2v1h-2zM843 617h2v1h-2zM845 616h2v1h-2zM847 615h5v1h-5zM852 616h2v1h-2zM854 617h2v1h-2zM856 618h10v1h-10zM866 617h2v1h-2zM868 616h2v1h-2zM870 615h2v1h-2zM872 614h12v1h-12zM884 615h3v1h-3zM887 616h2v1h-2zM889 617h10v1h-10zM899 618h2v1h-2zM901 619h2v1h-2zM903 620h2v1h-2zM905 621h5v1h-5zM910 622h6v1h-6zM916 621h4v1h-4zM920 620h3v1h-3zM923 619h2v1h-2zM925 618h2v1h-2zM927 617h3v1h-3zM930 618h1v1h-1zM931 619h1v2h-1zM932 621h1v1h-1zM933 622h1v2h-1zM934 624h1v1h-1zM935 625h1v2h-1zM936 627h1v1h-1zM937 628h1v2h-1zM938 629h2v1h-2zM940 630h3v1h-3zM943 631h3v1h-3z"/>
</g>
<text class="t" x="11.83" y="581.1" textLength="68.94" lengthAdjust="spacingAndGlyphs" xml:space="preserve">RSI(14) 38.3490</text>
<g class="cr"><rect x="1202" y="570" width="1" height="1" fill="#000"/><rect x="1202" y="668" width="1" height="1" fill="#000"/></g>
<text class="t" x="1205" y="579.2" textLength="15.35" lengthAdjust="spacingAndGlyphs" xml:space="preserve">100</text>
<text class="t" x="1203.4" y="603" textLength="10.23" lengthAdjust="spacingAndGlyphs" xml:space="preserve">70</text>
<text class="t" x="1203.4" y="643" textLength="10.23" lengthAdjust="spacingAndGlyphs" xml:space="preserve">30</text>
<text class="t" x="1204.6" y="666.2" textLength="5.12" lengthAdjust="spacingAndGlyphs" xml:space="preserve">0</text>
<g class="cr">
<rect x="9" y="670" width="1" height="3" fill="#000"/>
<rect x="73" y="670" width="1" height="3" fill="#000"/>
<rect x="137" y="670" width="1" height="3" fill="#000"/>
<rect x="201" y="670" width="1" height="3" fill="#000"/>
<rect x="265" y="670" width="1" height="3" fill="#000"/>
<rect x="329" y="670" width="1" height="3" fill="#000"/>
<rect x="393" y="670" width="1" height="3" fill="#000"/>
<rect x="457" y="670" width="1" height="3" fill="#000"/>
<rect x="521" y="670" width="1" height="3" fill="#000"/>
<rect x="585" y="670" width="1" height="3" fill="#000"/>
<rect x="649" y="670" width="1" height="3" fill="#000"/>
<rect x="713" y="670" width="1" height="3" fill="#000"/>
<rect x="777" y="670" width="1" height="3" fill="#000"/>
<rect x="841" y="670" width="1" height="3" fill="#000"/>
<rect x="905" y="670" width="1" height="3" fill="#000"/>
</g>
<text class="t" x="8.07" y="682" textLength="49.38" lengthAdjust="spacingAndGlyphs" xml:space="preserve">10 Jan 2022</text>
<text class="t" x="71.71" y="682" textLength="52.75" lengthAdjust="spacingAndGlyphs" xml:space="preserve">14 Jan 01:30</text>
<text class="t" x="135.34" y="682" textLength="53.32" lengthAdjust="spacingAndGlyphs" xml:space="preserve">20 Jan 01:30</text>
<text class="t" x="199.04" y="682" textLength="53.32" lengthAdjust="spacingAndGlyphs" xml:space="preserve">26 Jan 01:30</text>
<text class="t" x="262.99" y="682" textLength="50.89" lengthAdjust="spacingAndGlyphs" xml:space="preserve">8 Feb 01:30</text>
<text class="t" x="328.04" y="682" textLength="54.62" lengthAdjust="spacingAndGlyphs" xml:space="preserve">14 Feb 01:30</text>
<text class="t" x="391.69" y="682" textLength="54.67" lengthAdjust="spacingAndGlyphs" xml:space="preserve">18 Feb 01:30</text>
<text class="t" x="455.33" y="682" textLength="55.24" lengthAdjust="spacingAndGlyphs" xml:space="preserve">24 Feb 01:30</text>
<text class="t" x="519.02" y="682" textLength="50.65" lengthAdjust="spacingAndGlyphs" xml:space="preserve">2 Mar 01:30</text>
<text class="t" x="582.99" y="682" textLength="50.89" lengthAdjust="spacingAndGlyphs" xml:space="preserve">8 Mar 01:30</text>
<text class="t" x="648.04" y="682" textLength="54.62" lengthAdjust="spacingAndGlyphs" xml:space="preserve">14 Mar 01:30</text>
<text class="t" x="711.69" y="682" textLength="54.67" lengthAdjust="spacingAndGlyphs" xml:space="preserve">18 Mar 01:30</text>
<text class="t" x="775.33" y="682" textLength="55.24" lengthAdjust="spacingAndGlyphs" xml:space="preserve">24 Mar 01:30</text>
<text class="t" x="839.14" y="682" textLength="55.02" lengthAdjust="spacingAndGlyphs" xml:space="preserve">30 Mar 01:30</text>
<text class="t" x="902.9" y="682" textLength="49.97" lengthAdjust="spacingAndGlyphs" xml:space="preserve">7 Apr 01:30</text>
</svg></body></html>
